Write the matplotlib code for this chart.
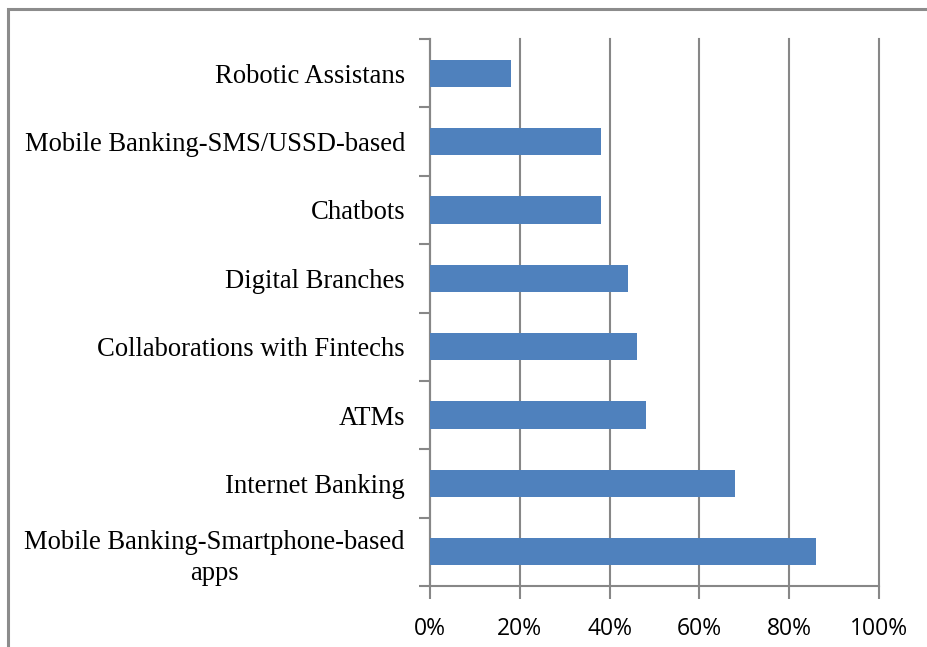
import matplotlib
matplotlib.use("Agg")
import matplotlib.pyplot as plt
from matplotlib.patches import Rectangle
from matplotlib.ticker import FixedLocator, PercentFormatter
import numpy as np

categories = [
    "Robotic Assistans",
    "Mobile Banking-SMS/USSD-based",
    "Chatbots",
    "Digital Branches",
    "Collaborations with Fintechs",
    "ATMs",
    "Internet Banking",
    "Mobile Banking-Smartphone-based\napps",
]
values = [18, 38, 38, 44, 46, 48, 68, 86]
xticks = [0, 20, 40, 60, 80, 100]

W, H = 927, 647
fig = plt.figure(figsize=(W / 100, H / 100), dpi=100)
fig.patch.set_facecolor("white")

# outer frame (clipped at right/bottom like the reference)
fig.add_artist(Rectangle((8 / W, -0.05), 1.1, (H - 9) / H + 0.05,
                         transform=fig.transFigure, fill=False,
                         edgecolor="#8c8c8c", linewidth=2.2))

left, right, top, bottom = 430, 879, 39, 586
ax = fig.add_axes([left / W, 1 - bottom / H, (right - left) / W, (bottom - top) / H])

n = len(categories)
y = np.arange(n)[::-1]  # first category at top
ax.barh(y, values, height=0.4, color="#4F81BD", zorder=3)

ax.set_xlim(0, 100)
ax.set_ylim(-0.5, n - 0.5)

grid_c = "#878787"
for s in ["top", "right"]:
    ax.spines[s].set_visible(False)
for s in ["left", "bottom"]:
    ax.spines[s].set_color(grid_c)
    ax.spines[s].set_linewidth(1.5)

ax.set_xticks(xticks)
ax.xaxis.set_major_formatter(PercentFormatter(decimals=0))
ax.xaxis.grid(True, color=grid_c, linewidth=1.5, zorder=0, clip_on=False)
ax.tick_params(axis="x", direction="out", length=9, width=1.5, color=grid_c,
               pad=13, labelsize=16.5)
for lbl in ax.get_xticklabels():
    lbl.set_fontfamily(["Open Sans", "DejaVu Sans"])

ax.set_yticks(y)
ax.set_yticklabels(categories, fontfamily="Liberation Serif", fontsize=19.2,
                   multialignment="center", linespacing=1.3)
ax.tick_params(axis="y", which="major", length=0, pad=18)
ax.yaxis.set_minor_locator(FixedLocator(np.arange(-0.5, n, 1.0)))
ax.tick_params(axis="y", which="minor", direction="out", length=8, width=1.5,
               color=grid_c)

fig.savefig("out.png", dpi=100, facecolor="white")
